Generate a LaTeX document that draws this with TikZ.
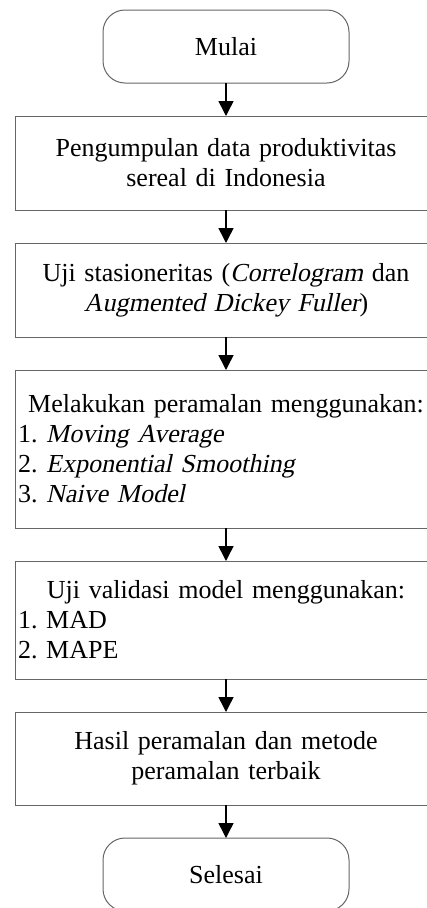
\documentclass[tikz,border=0pt]{standalone}
\usepackage{fontspec}
\setmainfont{Liberation Serif}[ItalicFont={Liberation Serif},
	ItalicFeatures={FakeSlant=0.21}]
\usetikzlibrary{arrows.meta,positioning}
\tikzset{
	flownode/.style = {align=center, inner sep=3pt, outer sep=0pt,
		font=\fontsize{26}{30}\selectfont\frenchspacing, draw=black!60, line width=1pt},
	fl_term/.style = {flownode, rectangle, rounded corners=22pt,
		minimum width=246pt, minimum height=73pt},% terminal, mulai/selesai
	fl_box/.style = {flownode, rectangle, text width=416pt},% kotak proses
	fl_list/.style = {fl_box, align=left}% kotak proses dengan daftar
}

\begin{document}
\begin{tikzpicture}[x=1pt,y=-1pt,->,>={Triangle[width=15pt,length=15pt]},
	node distance=33pt]
\useasboundingbox (0,0) rectangle (427,908);
\node [fl_term] (mulai) at (226,46.5) {Mulai};
\node [fl_box, minimum height=94pt, below=of mulai] (kumpul)
	{Pengumpulan data produktivitas\\ sereal di Indonesia};
\node [fl_box, minimum height=94pt, below=of kumpul] (stasioner)
	{Uji stasioneritas (\textit{Correlogram} dan\\ \textit{Augmented Dickey Fuller})};
\node [fl_list, minimum height=158pt, below=of stasioner] (ramal)
	{\makebox[416pt]{Melakukan peramalan menggunakan:}\\
	1. \textit{Moving Average}\\
	2. \textit{Exponential Smoothing}\\
	3. \textit{Naive Model}};
\node [fl_list, minimum height=118pt, below=of ramal] (validasi)
	{\makebox[416pt]{Uji validasi model menggunakan:}\\
	1. MAD\\
	2. MAPE};
\node [fl_box, minimum height=93pt, below=of validasi] (hasil)
	{Hasil peramalan dan metode\\ peramalan terbaik};
\node [fl_term, below=of hasil] (selesai) {Selesai};

\foreach \a/\b in {mulai/kumpul, kumpul/stasioner, stasioner/ramal,
	ramal/validasi, validasi/hasil, hasil/selesai}
	\draw [line width=1.5pt] (\a) -- (\b);
\end{tikzpicture}
\end{document}
